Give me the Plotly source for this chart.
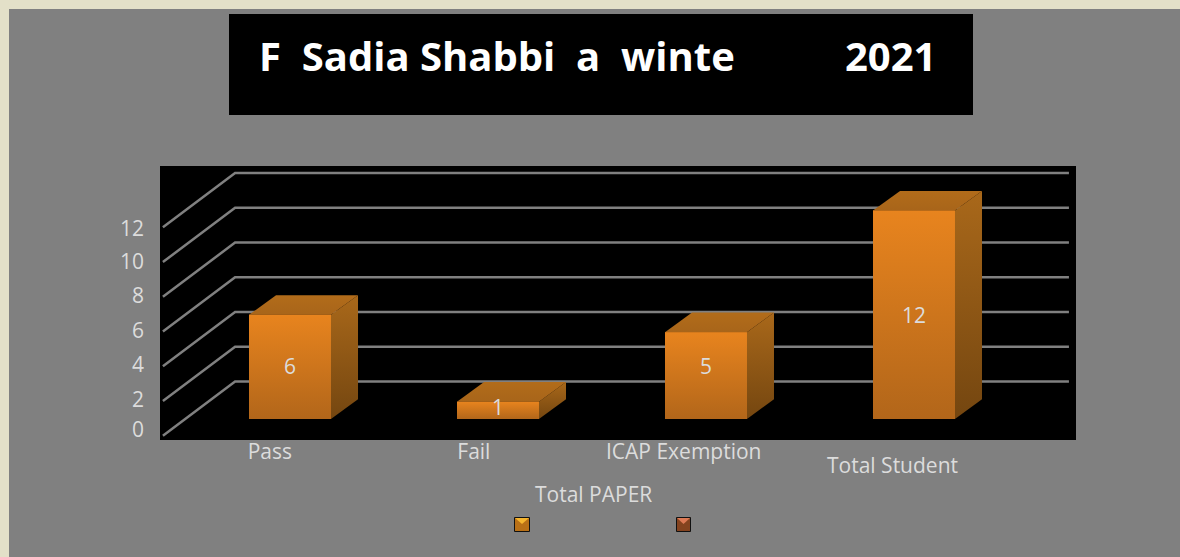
import plotly.graph_objects as go

categories = ["Pass", "Fail", "ICAP Exemption", "Total Student"]
values = [6, 1, 5, 12]
value_label_y = [2.9, 0.55, 2.9, 5.85]
axis_values = [0, 2, 4, 6, 8, 10, 12]
axis_label_y = [-0.63, 1.1, 3.11, 5.09, 7.09, 9.05, 10.99]
category_label_x = [-0.097, 0.884, 1.893, 2.898]
title_text = "F\u00a0\u00a0Sadia Shabbi\u00a0\u00a0a\u00a0\u00a0winte"
title_year = "2021"
axis_title = "Total PAPER"

W, H = 1180, 557
BAR_W = 0.394
DX, DY = 0.13, 1.13
WALL_X, WALL_Y = -0.264, 2.16
FRONT_X, FRONT_Y = -0.611, -0.96
GRID_END = 3.745
TXT = "#dcdcdc"
FONT = "Open Sans"

fig = go.Figure()

fig.add_trace(go.Bar(x=list(range(4)), y=values, width=BAR_W, marker_color="#CC761B",
                     marker_line_width=0, hoverinfo="skip", showlegend=False))

for v in axis_values:
    fig.add_trace(go.Scatter(x=[FRONT_X, WALL_X, GRID_END],
                             y=[v + FRONT_Y, v + WALL_Y, v + WALL_Y],
                             mode="lines", line=dict(color="#808080", width=2.5),
                             hoverinfo="skip", showlegend=False))

def poly(xs, ys, c0, c1):
    fig.add_trace(go.Scatter(x=xs + xs[:1], y=ys + ys[:1], mode="lines", line=dict(width=0),
                             fill="toself",
                             fillgradient=dict(type="vertical",
                                               colorscale=[[0, c0], [1, c1]]),
                             hoverinfo="skip", showlegend=False))

for i, v in enumerate(values):
    l, r = i - BAR_W / 2, i + BAR_W / 2
    poly([r, r + DX, r + DX, r], [0, DY, v + DY, v], "#744610", "#A9681A")
    poly([l, r, r + DX, l + DX], [v, v, v + DY, v + DY], "#A8651A", "#B26C1A")
    poly([l, r, r, l], [0, 0, v, v], "#B2661A", "#E8841E")

fig.add_trace(go.Scatter(x=list(range(4)), y=value_label_y, mode="text",
                         text=[str(v) for v in values],
                         textfont=dict(family=FONT, size=21, color=TXT),
                         textposition="middle center", hoverinfo="skip", showlegend=False))

def px(x0, y0, x1, y1, **kw):
    return dict(type="rect", xref="paper", yref="paper",
                x0=x0 / W, x1=x1 / W, y0=1 - y0 / H, y1=1 - y1 / H, **kw)

def tri(x0, y0, x1, y1, color):
    xm = (x0 + x1) / 2
    ym = (y0 + y1) / 2 + 1
    return dict(type="path", xref="paper", yref="paper", layer="above", line_width=0, fillcolor=color,
                path=f"M {x0/W} {1-y0/H} L {x1/W} {1-y0/H} L {xm/W} {1-ym/H} Z")

shapes = [
    px(0, 0, W, 9, fillcolor="#E3E0C8", line_width=0, layer="below"),
    px(0, 0, 9, H, fillcolor="#E3E0C8", line_width=0, layer="below"),
    px(229, 14, 973, 115, fillcolor="#000000", line_width=0, layer="below"),
    px(514.5, 517.5, 529.5, 531.5, fillcolor="#B97016", line=dict(color="#111111", width=1), layer="above"),
    tri(515, 518, 529, 528, "#F5B52E"),
    px(676.5, 517.5, 690.5, 531.5, fillcolor="#84431F", line=dict(color="#111111", width=1), layer="above"),
    tri(677, 518, 690, 528, "#DD7A55"),
]

annotations = [
    dict(text=title_text, xref="paper", yref="paper", x=257 / W, y=1 - 55 / H, xanchor="left", yanchor="middle",
         showarrow=False, font=dict(family=FONT, size=40, color="#FFFFFF", weight="bold")),
    dict(text=title_year, xref="paper", yref="paper", x=938 / W, y=1 - 55 / H, xanchor="right", yanchor="middle",
         showarrow=False, font=dict(family=FONT, size=40, color="#FFFFFF", weight="bold")),
    dict(text=axis_title, xref="paper", yref="paper", x=593 / W, y=1 - 494 / H, xanchor="center", yanchor="middle",
         showarrow=False, font=dict(family=FONT, size=21, color=TXT)),
    dict(text=categories[3], xref="x", yref="paper", x=category_label_x[3], y=1 - 465 / H, xanchor="center",
         yanchor="middle", showarrow=False, font=dict(family=FONT, size=21, color=TXT)),
]

fig.update_layout(
    width=W, height=H, margin=dict(l=0, r=0, t=0, b=0, autoexpand=False), autosize=False,
    paper_bgcolor="#808080", plot_bgcolor="#000000", showlegend=False,
    shapes=shapes, annotations=annotations,
    xaxis=dict(domain=[160 / W, 1076 / W], range=[-0.625, 3.779], showgrid=False, zeroline=False,
               tickmode="array", tickvals=category_label_x[:3],
               ticktext=categories[:3],
               tickfont=dict(family=FONT, size=21, color=TXT), ticks="", ticklabelstandoff=-3,
               showline=False),
    yaxis=dict(domain=[1 - 440 / H, 1 - 166 / H], range=[-1.21, 14.57], showgrid=False, zeroline=False,
               tickmode="array", tickvals=axis_label_y, ticktext=[str(v) for v in axis_values],
               tickfont=dict(family=FONT, size=21, color=TXT), ticks="", ticklabelstandoff=15,
               showline=False),
)

fig.write_html("out.html", config=dict(displayModeBar=False),
               post_script="document.body.style.margin='0';")
